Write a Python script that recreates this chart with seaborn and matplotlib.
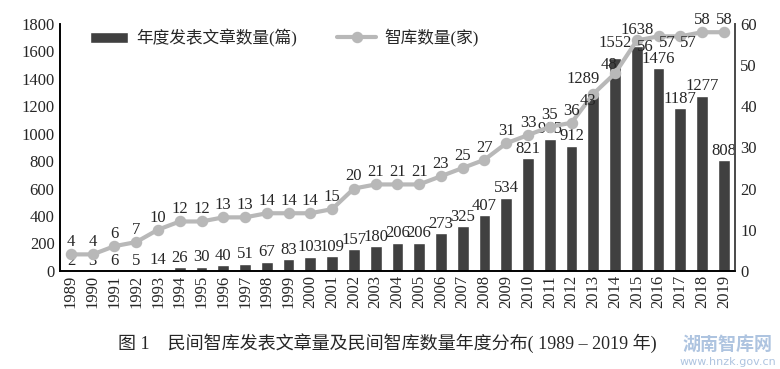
import matplotlib
matplotlib.use("Agg")
import matplotlib.pyplot as plt
import seaborn as sns
import pandas as pd

years = [str(y) for y in range(1989, 2020)]
articles = [2, 3, 6, 5, 14, 26, 30, 40, 51, 67, 83, 103, 109, 157, 180, 206, 206,
            273, 325, 407, 534, 821, 965, 912, 1289, 1552, 1638, 1476, 1187, 1277, 808]
tanks = [4, 4, 6, 7, 10, 12, 12, 13, 13, 14, 14, 14, 15, 20, 21, 21, 21,
         23, 25, 27, 31, 33, 35, 36, 43, 48, 56, 57, 57, 58, 58]
bar_name = "年度发表文章数量(篇)"
line_name = "智库数量(家)"
caption = "图 1　民间智库发表文章量及民间智库数量年度分布( 1989 – 2019 年)"

df = pd.DataFrame({"year": years, "articles": articles, "tanks": tanks})

sns.set_style("white")
plt.rcParams["font.family"] = ["Liberation Serif", "Noto Sans CJK SC", "DejaVu Sans"]

fig = plt.figure(figsize=(7.8, 3.69), dpi=100)
ax = fig.add_axes([0.077, 0.266, 0.865, 0.669])
ax2 = ax.twinx()

bar_col = "#404040"
line_col = "#b8b8b8"

sns.barplot(data=df, x="year", y="articles", color=bar_col, width=0.54,
            saturation=1, ax=ax, label=bar_name)
sns.pointplot(data=df, x="year", y="tanks", color=line_col, ax=ax2,
              markers="o", markersize=6, linewidth=3, label=line_name)

# bar labels, a few nudged up/left like in the source figure
bar_texts = ax.bar_label(ax.containers[0], fontsize=12, padding=1)
bar_nudge = {24: (-7, 5), 25: (0, 5), 26: (0, 6)}
for i, off in bar_nudge.items():
    bar_texts[i].xyann = off

# line labels: mostly above the marker, a few tucked beside it
special = {24: (-4, -5), 25: (-4.5, 6),
           26: (6, -5), 27: (6, -5), 28: (6, -5)}
for i, v in enumerate(tanks):
    if i in special:
        ax2.annotate(str(v), (i, v), xytext=special[i], textcoords="offset points",
                     ha="center", va="center", fontsize=12)
    else:
        ax2.annotate(str(v), (i, v), xytext=(0, 3), textcoords="offset points",
                     ha="center", va="bottom", fontsize=12)

ax.set_ylim(0, 1800)
ax.set_yticks(range(0, 1801, 200))
ax2.set_ylim(0, 60)
ax2.set_yticks(range(0, 61, 10))
ax.set_xlim(-0.5, 30.5)
ax2.set_xlim(-0.5, 30.5)
ax.set_xlabel("")
ax.set_ylabel("")
ax2.set_ylabel("")
ax.tick_params(axis="x", rotation=90, labelsize=12, length=0, pad=3)
ax.tick_params(axis="y", labelsize=12, length=0, pad=4)
ax2.tick_params(axis="y", labelsize=12, length=0, pad=4)

for a in (ax, ax2):
    a.spines["top"].set_visible(False)
    for s in ("left", "right", "bottom"):
        a.spines[s].set_color("#000000")
        a.spines[s].set_linewidth(1.2)
ax2.spines["right"].set_color("#555555")

h1, l1 = ax.get_legend_handles_labels()
h2, l2 = ax2.get_legend_handles_labels()
if ax2.get_legend():
    ax2.get_legend().remove()
ax.legend(h1 + h2, l1 + l2, loc="upper left", bbox_to_anchor=(0.022, 1.04),
          ncol=2, frameon=False, columnspacing=2.4, handletextpad=0.5,
          handlelength=2.3, prop={"size": 12})

fig.text(0.497, 0.07, caption, ha="center", va="center", fontsize=13)
fig.text(0.933, 0.065, "湖南智库网", ha="center", va="center", fontsize=13,
         color="#aec4e0", weight="bold", family=["Noto Sans CJK SC"])
fig.text(0.933, 0.018, "www.hnzk.gov.cn", ha="center", va="center", fontsize=8,
         color="#aec4e0", family=["DejaVu Sans"])

fig.savefig("out.png", dpi=100)
